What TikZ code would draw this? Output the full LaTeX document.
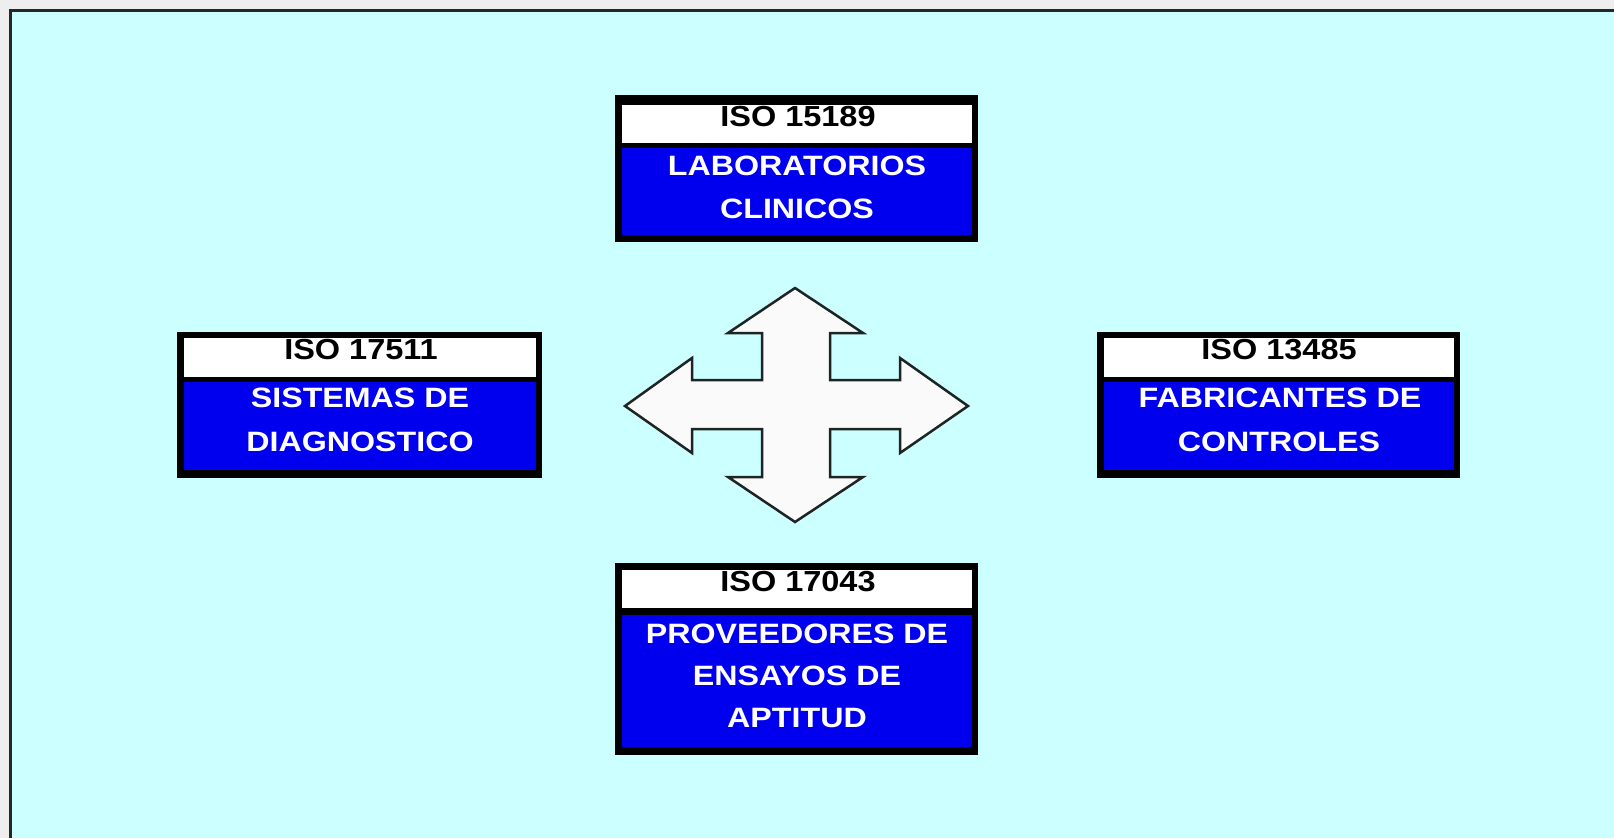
\documentclass[tikz,border=0pt]{standalone}
\usepackage{fontspec}
\newfontfamily\boxfont{Liberation Sans}[FakeStretch=1.12]
\newfontfamily\bodyfont{Liberation Sans}[FakeStretch=1.15]
\definecolor{bgcyan}{RGB}{204,255,255}
\definecolor{outergray}{RGB}{238,238,238}
\definecolor{boxblue}{RGB}{0,0,238}
\definecolor{arrowfill}{RGB}{250,250,250}
\definecolor{arrowline}{RGB}{30,35,35}
\tikzset{
  headtext/.style={anchor=base, inner sep=0pt, text=black, font=\boxfont\bfseries\fontsize{29}{34}\selectfont},
  bodytext/.style={anchor=base, inner sep=0pt, text=white, font=\bodyfont\bfseries\fontsize{28}{34}\selectfont},
  frameblack/.style={fill=black},
  headband/.style={fill=white},
  bodyband/.style={fill=boxblue},
  bigarrow/.style={fill=arrowfill, draw=arrowline, line width=2.5pt, line join=miter}
}
\begin{document}
\begin{tikzpicture}[x=1pt,y=-1pt]
\useasboundingbox (0,0) rectangle (1614,838);
\fill[outergray] (0,0) rectangle (1614,838);
\fill[bgcyan] (10,10) rectangle (1614,838);
\draw[black!85, line width=3pt] (10.5,838) -- (10.5,10.5) -- (1614,10.5);

% top box
\fill[frameblack] (615,95) rectangle (978,242);
\fill[headband] (622,105) rectangle (972,143);
\fill[bodyband] (622,148) rectangle (972,235);
\node[headtext] (labh) at (798,126) {ISO 15189};
\node[bodytext] (lab1) at (797,175) {LABORATORIOS};
\node[bodytext] (lab2) at (797,218) {CLINICOS};

% left box
\fill[frameblack] (177,332) rectangle (542,478);
\fill[headband] (184,338) rectangle (536,377);
\fill[bodyband] (184,382) rectangle (536,470);
\node[headtext] (sish) at (361,359) {ISO 17511};
\node[bodytext] (sis1) at (360,407) {SISTEMAS DE};
\node[bodytext] (sis2) at (360,451) {DIAGNOSTICO};

% right box
\fill[frameblack] (1097,332) rectangle (1460,478);
\fill[headband] (1104,338) rectangle (1454,377);
\fill[bodyband] (1104,382) rectangle (1454,470);
\node[headtext] (fabh) at (1279,359) {ISO 13485};
\node[bodytext] (fab1) at (1280,407) {FABRICANTES DE};
\node[bodytext] (fab2) at (1279,451) {CONTROLES};

% bottom box
\fill[frameblack] (615,563) rectangle (978,755);
\fill[headband] (622,570) rectangle (972,608);
\fill[bodyband] (622,615) rectangle (972,747);
\node[headtext] (proh) at (798,591) {ISO 17043};
\node[bodytext] (pro1) at (797,643) {PROVEEDORES DE};
\node[bodytext] (pro2) at (797,685) {ENSAYOS DE};
\node[bodytext] (pro3) at (797,727) {APTITUD};

% four-way arrow
\draw[bigarrow] (795,288) -- (863,333) -- (830,333) -- (830,380) -- (900,380) -- (900,358)
  -- (968,406) -- (900,453) -- (900,429) -- (830,429) -- (830,477) -- (863,477)
  -- (795,522) -- (728,477) -- (762,477) -- (762,429) -- (692,429) -- (692,453)
  -- (625,406) -- (692,358) -- (692,380) -- (762,380) -- (762,333) -- (728,333) -- cycle;
\end{tikzpicture}
\end{document}
